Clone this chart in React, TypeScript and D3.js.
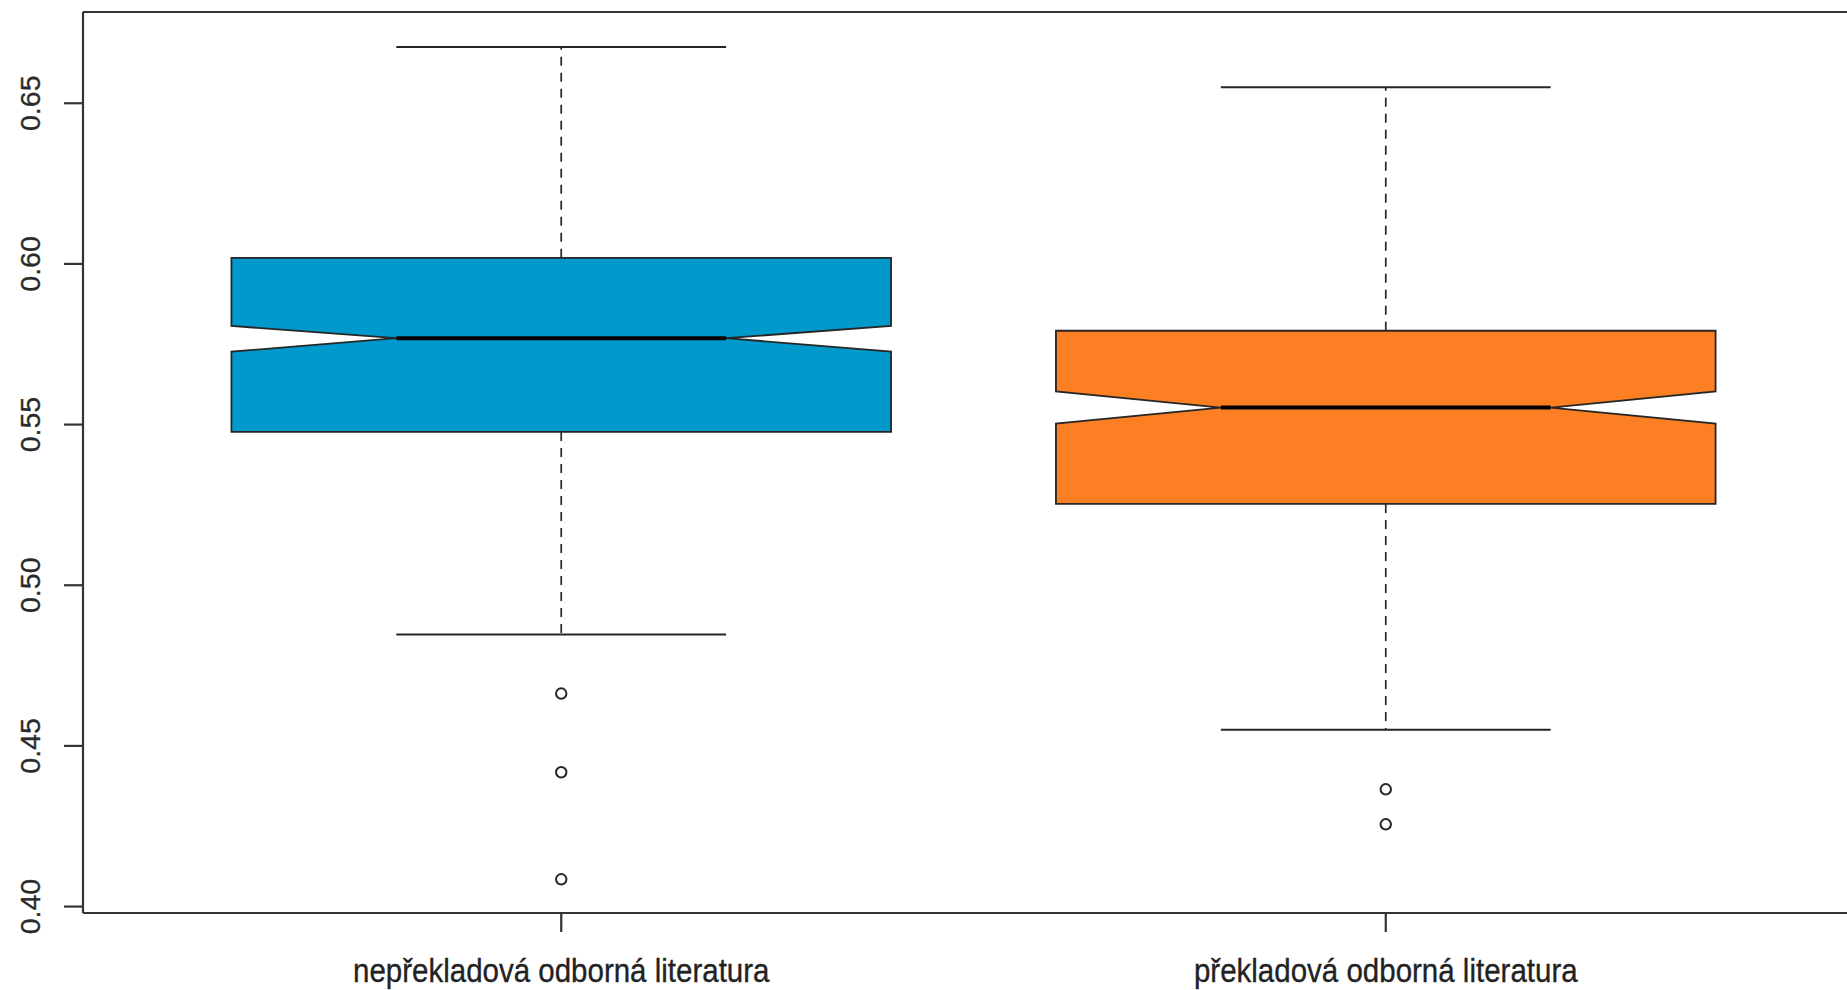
import React from "react";
import * as d3 from "d3";

const categories = ["nepřekladová odborná literatura", "překladová odborná literatura"];
const whiskerLow = [0.4847, 0.455];
const q1 = [0.5477, 0.5253];
const median = [0.5769, 0.5553];
const q3 = [0.6019, 0.5792];
const whiskerHigh = [0.6675, 0.655];
const notchLow = [0.5727, 0.5503];
const notchHigh = [0.5807, 0.5603];
const outliers = [[0.4663, 0.4418, 0.4085], [0.4365, 0.4256]];
const yTicks = [0.4, 0.45, 0.5, 0.55, 0.6, 0.65];
const fills = ["#0099cc", "#fd7f23"];

const W = 1847;
const H = 990;

export default function App() {
  const x = d3.scaleLinear().domain([0.42, 2.58]).range([83, 1864]);
  const y = d3.scaleLinear().domain([0.398, 0.6784]).range([913, 12]);
  const boxwex = 0.8;
  const staple = 0.2;
  const ink = "#262626";
  const font = "'Liberation Sans', Arial, sans-serif";

  return (
    <svg width={W} height={H} style={{ position: "absolute", left: 0, top: 0, background: "#fff" }}>
      {/* frame */}
      <line x1={x(0.42)} x2={W + 10} y1={y.range()[1]} y2={y.range()[1]} stroke="#333" strokeWidth={2.2} />
      <line x1={x(0.42)} x2={W + 10} y1={y.range()[0]} y2={y.range()[0]} stroke="#333" strokeWidth={2.2} />
      <line x1={x(0.42)} x2={x(0.42)} y1={y.range()[1]} y2={y.range()[0]} stroke="#333" strokeWidth={2.2} />

      {/* y axis ticks */}
      {yTicks.map((t) => (
        <g key={t}>
          <line x1={x(0.42) - 19} x2={x(0.42)} y1={y(t)} y2={y(t)} stroke="#333" strokeWidth={2.2} />
          <text
            transform={`translate(40,${y(t)}) rotate(-90)`}
            textAnchor="middle"
            fontFamily={font}
            fontSize={28.5}
            fill="#2a2a2a"
            stroke="#2a2a2a"
            strokeWidth={0.3}
          >
            {t.toFixed(2)}
          </text>
        </g>
      ))}

      {/* x axis ticks and labels */}
      {categories.map((c, i) => (
        <g key={c}>
          <line x1={x(i + 1)} x2={x(i + 1)} y1={y.range()[0]} y2={y.range()[0] + 19} stroke="#333" strokeWidth={2.2} />
          <text
            transform={`translate(${x(i + 1)},982) scale(1,1.12)`}
            textAnchor="middle"
            fontFamily={font}
            fontSize={29.5}
            fill="#222"
            stroke="#222"
            strokeWidth={0.3}
          >
            {c}
          </text>
        </g>
      ))}

      {/* boxes */}
      {categories.map((c, i) => {
        const cx = x(i + 1);
        const half = x(i + 1 + boxwex / 2) - cx;
        const l = cx - half;
        const r = cx + half;
        const nl = cx - half / 2;
        const nr = cx + half / 2;
        const pts: [number, number][] = [
          [l, y(q1[i])],
          [l, y(notchLow[i])],
          [nl, y(median[i])],
          [l, y(notchHigh[i])],
          [l, y(q3[i])],
          [r, y(q3[i])],
          [r, y(notchHigh[i])],
          [nr, y(median[i])],
          [r, y(notchLow[i])],
          [r, y(q1[i])],
        ];
        const path = d3.line()(pts) + "Z";
        const sl = x(i + 1 - staple);
        const sr = x(i + 1 + staple);
        return (
          <g key={c}>
            <line x1={cx} x2={cx} y1={y(q3[i])} y2={y(whiskerHigh[i])} stroke={ink} strokeWidth={1.7} strokeDasharray="9,7" />
            <line x1={cx} x2={cx} y1={y(q1[i])} y2={y(whiskerLow[i])} stroke={ink} strokeWidth={1.7} strokeDasharray="9,7" />
            <line x1={sl} x2={sr} y1={y(whiskerHigh[i])} y2={y(whiskerHigh[i])} stroke={ink} strokeWidth={2} />
            <line x1={sl} x2={sr} y1={y(whiskerLow[i])} y2={y(whiskerLow[i])} stroke={ink} strokeWidth={2} />
            <path d={path} fill={fills[i]} stroke={ink} strokeWidth={1.8} />
            <line x1={nl} x2={nr} y1={y(median[i])} y2={y(median[i])} stroke="#000" strokeWidth={4} />
            {outliers[i].map((o, j) => (
              <circle key={j} cx={cx} cy={y(o)} r={5.2} fill="none" stroke={ink} strokeWidth={2} />
            ))}
          </g>
        );
      })}
    </svg>
  );
}
